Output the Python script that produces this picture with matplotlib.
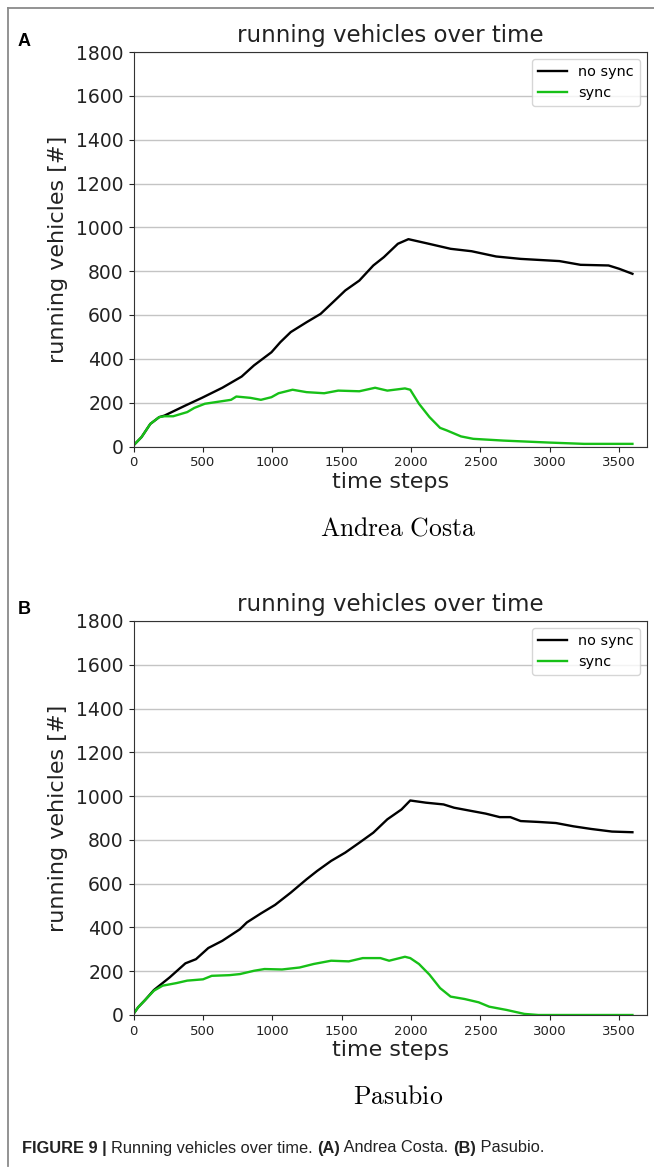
import matplotlib
matplotlib.use("Agg")
import matplotlib.pyplot as plt
from matplotlib.lines import Line2D

# --- data ------------------------------------------------------------
# (A) Andrea Costa
a_nosync_t = [0, 58, 121, 185, 223, 374, 493, 640, 779, 868, 994, 1058, 1133, 1247,
              1348, 1450, 1526, 1627, 1728, 1804, 1905, 1981, 2107, 2285, 2436,
              2613, 2790, 3069, 3221, 3423, 3499, 3595]
a_nosync_v = [5, 43, 103, 134, 141, 187, 222, 268, 319, 370, 430, 476, 522, 567,
              605, 666, 712, 757, 826, 864, 925, 946, 928, 902, 891,
              867, 856, 846, 829, 826, 811, 788]
a_sync_t = [0, 58, 121, 185, 223, 286, 387, 438, 514, 640, 703, 741, 842, 918, 994,
            1045, 1146, 1247, 1374, 1475, 1627, 1741, 1829, 1956, 1994, 2057, 2133,
            2209, 2259, 2360, 2448, 2664, 2993, 3246, 3595]
a_sync_v = [5, 43, 103, 134, 138, 138, 157, 176, 195, 207, 213, 228, 222, 213, 225,
            243, 259, 248, 243, 255, 252, 268, 255, 265, 259, 195, 134,
            85, 73, 46, 35, 27, 18, 12, 12]

# (B) Pasubio
b_nosync_t = [0, 33, 83, 147, 261, 374, 450, 539, 640, 767, 817, 918, 1020, 1133,
              1247, 1323, 1424, 1526, 1627, 1728, 1829, 1931, 1994, 2107, 2234,
              2310, 2436, 2538, 2639, 2715, 2790, 2917, 3044, 3170, 3297, 3448, 3595]
b_nosync_v = [5, 35, 68, 114, 172, 236, 255, 306, 339, 392, 423, 464, 503, 559,
              620, 658, 704, 742, 787, 833, 894, 939, 980, 970, 962,
              947, 932, 920, 904, 904, 886, 882, 877, 862, 850, 838, 835]
b_sync_t = [0, 33, 83, 147, 210, 311, 387, 501, 564, 691, 767, 868, 944, 1070, 1197,
            1298, 1424, 1551, 1652, 1779, 1842, 1956, 1994, 2057, 2133, 2209, 2285,
            2386, 2487, 2563, 2689, 2816, 2917, 3595]
b_sync_v = [5, 35, 68, 111, 134, 146, 157, 163, 179, 182, 187, 202, 210, 208, 217,
            233, 248, 245, 260, 260, 248, 266, 260, 233, 184, 123, 84,
            73, 58, 38, 23, 5, 0, 0]

y_ticks = list(range(0, 1801, 200))
x_ticks = list(range(0, 3501, 500))
panels = [
    ("A", "Andrea Costa", a_nosync_t, a_nosync_v, a_sync_t, a_sync_v),
    ("B", "Pasubio", b_nosync_t, b_nosync_v, b_sync_t, b_sync_v),
]

GREEN = "#17c017"
W, H = 654, 1174

fig = plt.figure(figsize=(W / 100, H / 100), dpi=100)

# axes boxes in pixels (left, top, right, bottom)
boxes = [(133.5, 52, 647, 446.5), (133.5, 621, 647, 1015)]

for (letter, place, nt, nv, st, sv), (l, t, r, b) in zip(panels, boxes):
    ax = fig.add_axes([l / W, (H - b) / H, (r - l) / W, (b - t) / H])
    ax.plot(nt, nv, color="black", linewidth=1.7, label="no sync")
    ax.plot(st, sv, color=GREEN, linewidth=1.7, label="sync")
    ax.set_xlim(0, 3700)
    ax.set_ylim(0, 1800)
    ax.set_yticks(y_ticks)
    ax.set_xticks(x_ticks)
    ax.tick_params(axis="y", labelsize=13.5, colors="#222222")
    ax.tick_params(axis="x", labelsize=9.5, colors="#222222")
    ax.yaxis.grid(True, color="#c4c4c4", linewidth=1)
    ax.set_axisbelow(True)
    for s in ax.spines.values():
        s.set_color("#333333")
    ax.set_title("running vehicles over time", fontsize=16.5, color="#222222", pad=7)
    ax.set_xlabel("time steps", fontsize=16, color="#222222", labelpad=2)
    ax.set_ylabel("running vehicles [#]", fontsize=16, color="#222222", labelpad=6)
    ax.legend(loc="upper right", fontsize=10.4)

    # panel letter and sub caption
    fig.text(18 / W, 1 - (t - 11) / H, letter, fontsize=13, fontweight="bold",
             family="Liberation Sans", va="center", ha="left")
    fig.text(398 / W, 1 - (b + 82) / H, r"$\mathrm{%s}$" % place.replace(" ", r"\ "),
             fontsize=18.5, ha="center", va="center", math_fontfamily="cm")

# gray frame (left and top edge)
fig.add_artist(Line2D([8 / W, 8 / W], [1 - 8 / H, 1 - 1166 / H], color="#8a8a8a", lw=1.3))
fig.add_artist(Line2D([8 / W, 1.0], [1 - 8 / H, 1 - 8 / H], color="#8a8a8a", lw=1.3))

# caption with bold pieces
caption = [("FIGURE 9 | ", "bold"), ("Running vehicles over time. ", "normal"),
           ("(A)", "bold"), (" Andrea Costa. ", "normal"),
           ("(B)", "bold"), (" Pasubio.", "normal")]
renderer = fig.canvas.get_renderer()
x = 22
for txt, wt in caption:
    tt = fig.text(x / W, 1 - 1148 / H, txt, fontsize=11.8, fontweight=wt,
                  family=["Liberation Sans Narrow", "Liberation Sans"],
                  va="center", ha="left", color="#222222")
    x += tt.get_window_extent(renderer).width

fig.savefig("out.png", dpi=100)
